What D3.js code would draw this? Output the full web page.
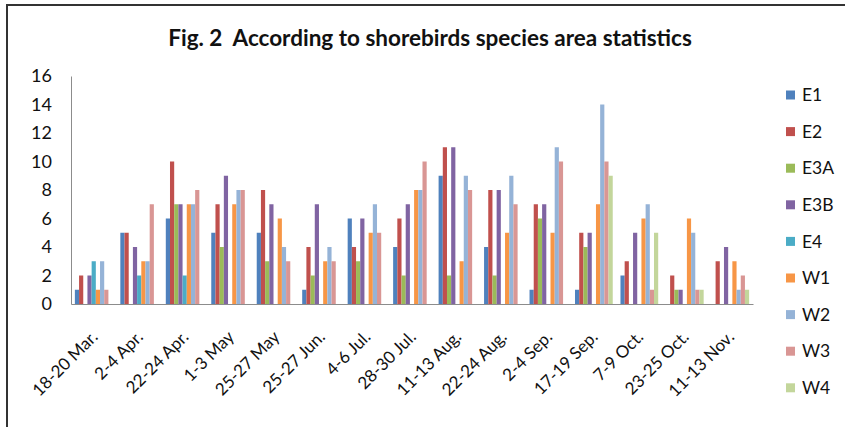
<!DOCTYPE html>
<html>
<head>
<meta charset="utf-8">
<script src="https://cdn.jsdelivr.net/npm/d3@7"></script>
<style>
  body { margin: 0; background: #fff; }
  svg { display: block; font-family: Lato, "Open Sans", sans-serif; }
</style>
</head>
<body>
<div id="chart"></div>
<script>
// Categories (survey dates) and series names
const categories = ["18-20 Mar.", "2-4 Apr.", "22-24 Apr.", "1-3 May", "25-27 May", "25-27 Jun.",
  "4-6 Jul.", "28-30 Jul.", "11-13 Aug.", "22-24 Aug.", "2-4 Sep.", "17-19 Sep.",
  "7-9 Oct.", "23-25 Oct.", "11-13 Nov."];
const seriesNames = ["E1", "E2", "E3A", "E3B", "E4", "W1", "W2", "W3", "W4"];

// Values per series
const e1  = [1, 5, 6, 5, 5, 1, 6, 4, 9, 4, 1, 1, 2, 0, 0];
const e2  = [2, 5, 10, 7, 8, 4, 4, 6, 11, 8, 7, 5, 3, 2, 3];
const e3a = [0, 0, 7, 4, 3, 2, 3, 2, 2, 2, 6, 4, 0, 1, 0];
const e3b = [2, 4, 7, 9, 7, 7, 6, 7, 11, 8, 7, 5, 5, 1, 4];
const e4  = [3, 2, 2, 0, 0, 0, 0, 0, 0, 0, 0, 0, 0, 0, 0];
const w1  = [1, 3, 7, 7, 6, 3, 5, 8, 3, 5, 5, 7, 6, 6, 3];
const w2  = [3, 3, 7, 8, 4, 4, 7, 8, 9, 9, 11, 14, 7, 5, 1];
const w3  = [1, 7, 8, 8, 3, 3, 5, 10, 8, 7, 10, 10, 1, 1, 2];
const w4  = [0, 0, 0, 0, 0, 0, 0, 0, 0, 0, 0, 9, 5, 1, 1];

const yTicks = [0, 2, 4, 6, 8, 10, 12, 14, 16];

const seriesValues = [e1, e2, e3a, e3b, e4, w1, w2, w3, w4];
const colors = ["#4F81BD", "#C0504D", "#9BBB59", "#8064A2", "#4BACC6",
  "#F79646", "#95B3D7", "#D99694", "#C3D69B"];

const width = 845;
const height = 427;
const plot = { left: 71, right: 753, top: 76, bottom: 304 };

const svg = d3.select("#chart")
  .append("svg")
  .attr("width", width)
  .attr("height", height);

// Outer frame
svg.append("rect")
  .attr("x", 7)
  .attr("y", 5)
  .attr("width", width)
  .attr("height", height)
  .attr("fill", "none")
  .attr("stroke", "#333")
  .attr("stroke-width", 2);

// Title (keep the double space)
svg.append("text")
  .attr("x", 430)
  .attr("y", 46)
  .attr("text-anchor", "middle")
  .attr("font-size", "22.5px")
  .attr("font-weight", "bold")
  .attr("fill", "#111")
  .style("white-space", "pre")
  .text("Fig. 2  According to shorebirds species area statistics");

// Scales
const x0 = d3.scaleBand()
  .domain(categories)
  .range([plot.left, plot.right])
  .paddingInner(0.17)
  .paddingOuter(0.085);

const x1 = d3.scaleBand()
  .domain(seriesNames)
  .range([0, x0.bandwidth()]);

const y = d3.scaleLinear()
  .domain([0, 16])
  .range([plot.bottom, plot.top]);

// Bars
const groups = svg.append("g")
  .selectAll("g")
  .data(categories)
  .join("g")
  .attr("transform", (d) => `translate(${x0(d)},0)`);

groups.selectAll("rect")
  .data((d, i) => seriesNames.map((s, j) => ({ series: s, value: seriesValues[j][i], color: colors[j] })))
  .join("rect")
  .attr("x", (d) => x1(d.series))
  .attr("y", (d) => y(d.value))
  .attr("width", x1.bandwidth())
  .attr("height", (d) => y(0) - y(d.value))
  .attr("fill", (d) => d.color);

// Y axis
const yAxis = svg.append("g")
  .attr("transform", `translate(${plot.left},0)`)
  .call(d3.axisLeft(y).tickValues(yTicks).tickSize(0).tickPadding(19));
yAxis.select(".domain").attr("stroke", "#8c8c8c");
yAxis.selectAll("text")
  .attr("font-size", "18px")
  .attr("font-family", "Lato, sans-serif")
  .attr("fill", "#111");

// X axis
const xAxis = svg.append("g")
  .attr("transform", `translate(0,${plot.bottom})`)
  .call(d3.axisBottom(x0).tickSize(0).tickSizeOuter(0));
xAxis.select(".domain").attr("stroke", "#8c8c8c");
xAxis.selectAll("text")
  .attr("x", 0)
  .attr("y", 0)
  .attr("dy", "0")
  .attr("transform", "translate(5,34) rotate(-45)")
  .attr("text-anchor", "end")
  .attr("font-size", "17px")
  .attr("font-family", "Lato, sans-serif")
  .attr("fill", "#111");

// Legend
const legend = svg.append("g")
  .selectAll("g")
  .data(seriesNames)
  .join("g")
  .attr("transform", (d, i) => `translate(786,${95 + i * 36.6})`);

legend.append("rect")
  .attr("x", 0)
  .attr("y", -4.5)
  .attr("width", 9)
  .attr("height", 9)
  .attr("fill", (d, i) => colors[i]);

legend.append("text")
  .attr("x", 16)
  .attr("y", 0)
  .attr("dy", "0.35em")
  .attr("font-size", "17.5px")
  .attr("fill", "#111")
  .text((d) => d);
</script>
</body>
</html>
